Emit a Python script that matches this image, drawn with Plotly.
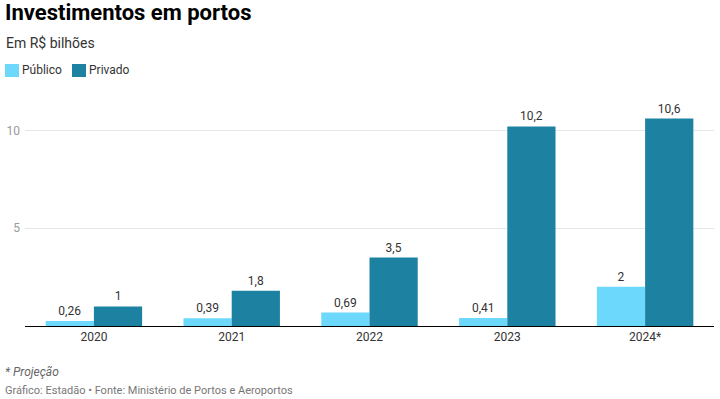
import plotly.graph_objects as go

categories = ["2020", "2021", "2022", "2023", "2024*"]
publico = [0.26, 0.39, 0.69, 0.41, 2]
privado = [1, 1.8, 3.5, 10.2, 10.6]
tick_vals = [5, 10]
tick_text = ["5", "10"]

W, H = 720, 399
ML, MR, MT, MB = 25, 6, 101, 73
PW, PH = W - ML - MR, H - MT - MB

def px(x):
    return (x - ML) / PW

def py(y):
    return (H - MB - y) / PH

def fmt(v):
    return ("%g" % v).replace(".", ",")

C_PUB = "#6cd8fb"
C_PRI = "#1d81a2"

fig = go.Figure()
fig.add_trace(go.Bar(
    x=categories, y=publico, name="Público",
    marker=dict(color=C_PUB, line=dict(width=0)),
    text=[fmt(v) for v in publico], textposition="outside", cliponaxis=False,
    textfont=dict(family="Roboto", size=12, color="#333333"),
))
fig.add_trace(go.Bar(
    x=categories, y=privado, name="Privado",
    marker=dict(color=C_PRI, line=dict(width=0)),
    text=[fmt(v) for v in privado], textposition="outside", cliponaxis=False,
    textfont=dict(family="Roboto", size=12, color="#333333"),
))

def ann(text, x, y, size, color, xanchor="left"):
    return dict(text=text, x=px(x), y=py(y), xref="paper", yref="paper",
                xanchor=xanchor, yanchor="middle", showarrow=False,
                font=dict(family="Roboto", size=size, color=color))

annotations = [
    ann("<b>Investimentos em portos</b>", 3, 13, 22, "#000000"),
    ann("Em R$ bilhões", 4, 43, 14, "#333333"),
    ann("Público", 20, 70, 12, "#333333"),
    ann("Privado", 87, 70, 12, "#333333"),
    ann("<i>* Projeção</i>", 3, 372, 12, "#666666"),
    ann("Gráfico: Estadão • Fonte: Ministério de Portos e Aeroportos", 3, 390, 11, "#777777"),
]

shapes = [
    dict(type="rect", xref="paper", yref="paper", x0=px(5), x1=px(19), y0=py(77), y1=py(64),
         fillcolor=C_PUB, line=dict(width=0)),
    dict(type="rect", xref="paper", yref="paper", x0=px(72), x1=px(86), y0=py(77), y1=py(64),
         fillcolor=C_PRI, line=dict(width=0)),
]

fig.update_layout(
    width=W, height=H,
    margin=dict(l=ML, r=MR, t=MT, b=MB, autoexpand=False),
    paper_bgcolor="white", plot_bgcolor="white",
    barmode="group", bargap=0.3, bargroupgap=0,
    font=dict(family="Roboto", size=12, color="#333333"),
    showlegend=False,
    annotations=annotations,
    shapes=shapes,
    xaxis=dict(showgrid=False, showline=True, linecolor="#000000", linewidth=1,
               ticks="", automargin=False,
               tickfont=dict(family="Roboto", size=12, color="#333333")),
    yaxis=dict(range=[0, 11.5], tickvals=tick_vals, ticktext=tick_text, showgrid=True,
               gridcolor="#e6e6e6", gridwidth=1, zeroline=False, showline=False,
               automargin=False,
               tickfont=dict(family="Roboto", size=12, color="#999999"), ticks="",
               ticklabelstandoff=4),
)

fig.write_html("out.html", config={"displayModeBar": False},
               post_script="document.body.style.margin='0px';document.body.style.overflow='hidden';")
